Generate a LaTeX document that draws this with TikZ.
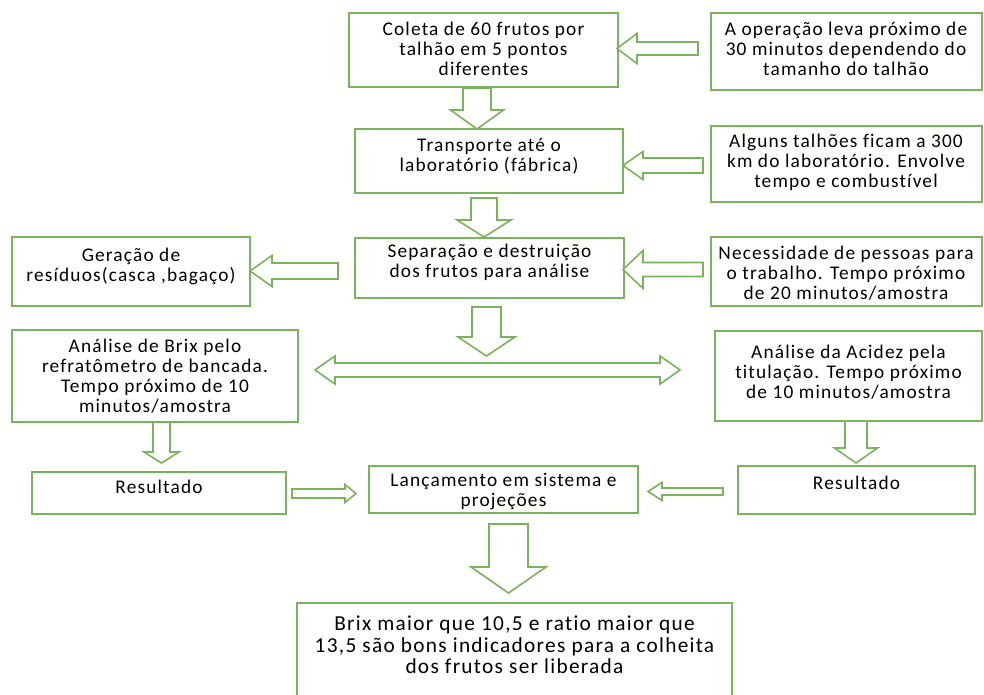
\documentclass[tikz,border=0pt]{standalone}
\usepackage{fontspec}
\setmainfont{Carlito}[LetterSpace=6,Ligatures=NoCommon]
\usetikzlibrary{fit}
\definecolor{lgreen}{RGB}{122,180,90}
\newcommand\harr[6]{% tail x, base x, tip x, y, shaft half, head half
  \draw[barrow] (#1,{#4-#5}) -- (#2,{#4-#5}) -- (#2,{#4-#6}) -- (#3,#4) -- (#2,{#4+#6}) -- (#2,{#4+#5}) -- (#1,{#4+#5}) -- cycle;}
\newcommand\varr[6]{% tail y, base y, tip y, x, shaft half, head half
  \draw[barrow] ({#4-#5},#1) -- ({#4-#5},#2) -- ({#4-#6},#2) -- (#4,#3) -- ({#4+#6},#2) -- ({#4+#5},#2) -- ({#4+#5},#1) -- cycle;}
\begin{document}
\begin{tikzpicture}[x=0.75pt,y=-0.75pt,
  box/.style={draw=lgreen,line width=1.5pt,inner sep=0pt},
  txt/.style={align=center,font=\fontsize{14.5}{15}\selectfont,inner sep=0pt,text=black},
  bigtxt/.style={txt,font=\fontsize{16}{16.2}\selectfont},
  barrow/.style={draw=lgreen,line width=1.2pt,fill=white,line join=miter}]
\useasboundingbox (0,0) rectangle (984,695);
\fill[white] (0,0) rectangle (984,695);
\clip (0,0) rectangle (984,695);
% boxes
\node[box,fit={(349,13) (618,87)}] (coleta) {};
\node[box,fit={(711,13) (982,90)}] (oper) {};
\node[box,fit={(355,129) (623,193)}] (transp) {};
\node[box,fit={(711,126) (982,202)}] (alguns) {};
\node[box,fit={(355,238) (624,298)}] (separ) {};
\node[box,fit={(711,237) (982,306)}] (necess) {};
\node[box,fit={(12,237) (250,306)}] (geracao) {};
\node[box,fit={(12,330) (298,422)}] (brix) {};
\node[box,fit={(715,331) (982,421)}] (acidez) {};
\node[box,fit={(32,472) (286,514)}] (resL) {};
\node[box,fit={(369,466) (638,513)}] (lanc) {};
\node[box,fit={(738,466) (975,514)}] (resR) {};
\node[box,fit={(297,603) (732,720)}] (final) {};
% texts
\node[txt] (coleta-t) at (483.5,48.5) {Coleta de 60 frutos por\\talhão em 5 pontos\\diferentes};
\node[txt] (oper-t) at (846,49) {A operação leva próximo de\\30 minutos dependendo do\\tamanho do talhão};
\node[txt] (transp-t) at (489,156) {Transporte até o\\laboratório (fábrica)};
\node[txt] (alguns-t) at (846,162) {Alguns talhões ficam a 300\\km do laboratório. Envolve\\tempo e combustível};
\node[txt] (separ-t) at (489.5,262.5) {Separação e destruição\\dos frutos para análise};
\node[txt] (necess-t) at (846,273) {Necessidade de pessoas para\\o trabalho. Tempo próximo\\de 20 minutos/amostra};
\node[txt] (geracao-t) at (131,266.5) {Geração de\\resíduos(casca ,bagaço)};
\node[txt] (brix-t) at (155,376) {Análise de Brix pelo\\refratômetro de bancada.\\Tempo próximo de 10\\minutos/amostra};
\node[txt] (acidez-t) at (848.5,372) {Análise da Acidez pela\\titulação. Tempo próximo\\de 10 minutos/amostra};
\node[txt] (resL-t) at (159,487) {Resultado};
\node[txt] (lanc-t) at (503.5,492) {Lançamento em sistema e\\projeções};
\node[txt] (resR-t) at (856.5,483) {Resultado};
\node[bigtxt] (final-t) at (514.5,645) {Brix maior que 10,5 e ratio maior que\\13,5 são bons indicadores para a colheita\\dos frutos ser liberada};
% block arrows
\harr{698}{637}{617}{48.5}{6.5}{15}
\harr{703}{643}{623}{165.5}{7.5}{14}
\harr{703}{643}{623}{269.5}{7}{19}
\harr{338}{272}{250}{271}{8}{15.5}
\varr{88}{110}{129}{477}{14}{26.5}
\varr{198}{220}{237}{484}{13}{27}
\varr{307}{337}{356}{486.5}{14.5}{28.5}
\varr{422}{452}{463}{161.5}{8.5}{17.5}
\varr{421}{448}{463}{856}{11}{21.5}
\varr{524}{567}{593}{508.5}{19.5}{37.5}
\harr{292}{345}{356}{493.5}{4.5}{9}
\harr{723}{662}{648}{491.5}{3.5}{9}
\draw[barrow] (315,370) -- (335,356) -- (335,363) -- (660,363) -- (660,356) -- (680,370) -- (660,384) -- (660,377) -- (335,377) -- (335,384) -- cycle;
\end{tikzpicture}
\end{document}
